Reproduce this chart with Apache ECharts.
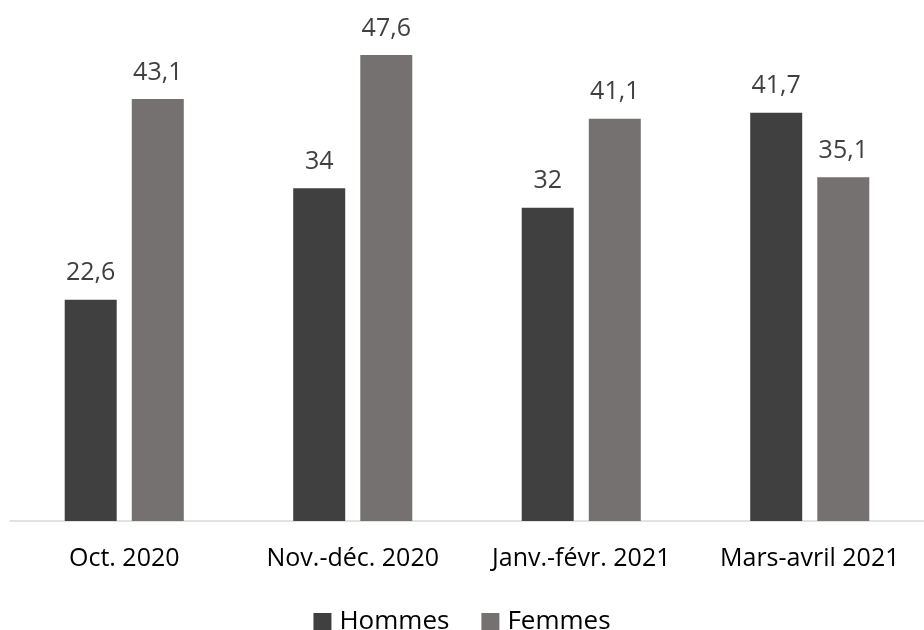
<!DOCTYPE html>
<html><head><meta charset="utf-8">
<script src="https://cdn.jsdelivr.net/npm/echarts@6/dist/echarts.min.js"></script>
<style>html,body{margin:0;padding:0;background:#fff}#c{width:924px;height:630px}</style>
</head><body><div id="c"></div>
<script>
var categories = ['Oct. 2020', 'Nov.-déc. 2020', 'Janv.-févr. 2021', 'Mars-avril 2021'];
var hommes = [22.6, 34, 32, 41.7];
var femmes = [43.1, 47.6, 41.1, 35.1];
var font = '"Open Sans", sans-serif';
var chart = echarts.init(document.getElementById('c'));
function fmt(p){ return String(p.value).replace('.', ','); }
chart.setOption({
  animation: false,
  textStyle: {fontFamily: font},
  grid: {left: 10, right: 0, top: 31.5, bottom: 109},
  legend: {
    data: ['Hommes', 'Femmes'], bottom: -10, left: 'center',
    icon: 'rect', itemWidth: 18, itemHeight: 18, itemGap: 32,
    textStyle: {fontSize: 26, color: '#000', fontFamily: font, padding: [0, 0, 0, 3]}
  },
  xAxis: {
    type: 'category', data: categories,
    axisLine: {lineStyle: {color: '#d9d9d9', width: 1.5}},
    axisTick: {show: false},
    axisLabel: {interval: 0, fontSize: 25, color: '#000', margin: 25, fontFamily: font}
  },
  yAxis: {type: 'value', min: 0, max: 50, show: false, splitLine: {show: false}},
  series: [
    {name: 'Hommes', type: 'bar', data: hommes, barWidth: 52, barGap: '29%',
     itemStyle: {color: '#404040'},
     label: {show: true, position: 'top', distance: 14, fontSize: 25, color: '#404040', formatter: fmt, fontFamily: font}},
    {name: 'Femmes', type: 'bar', data: femmes, barWidth: 52,
     itemStyle: {color: '#767171'},
     label: {show: true, position: 'top', distance: 14, fontSize: 25, color: '#404040', formatter: fmt, fontFamily: font}}
  ]
});
</script></body></html>
